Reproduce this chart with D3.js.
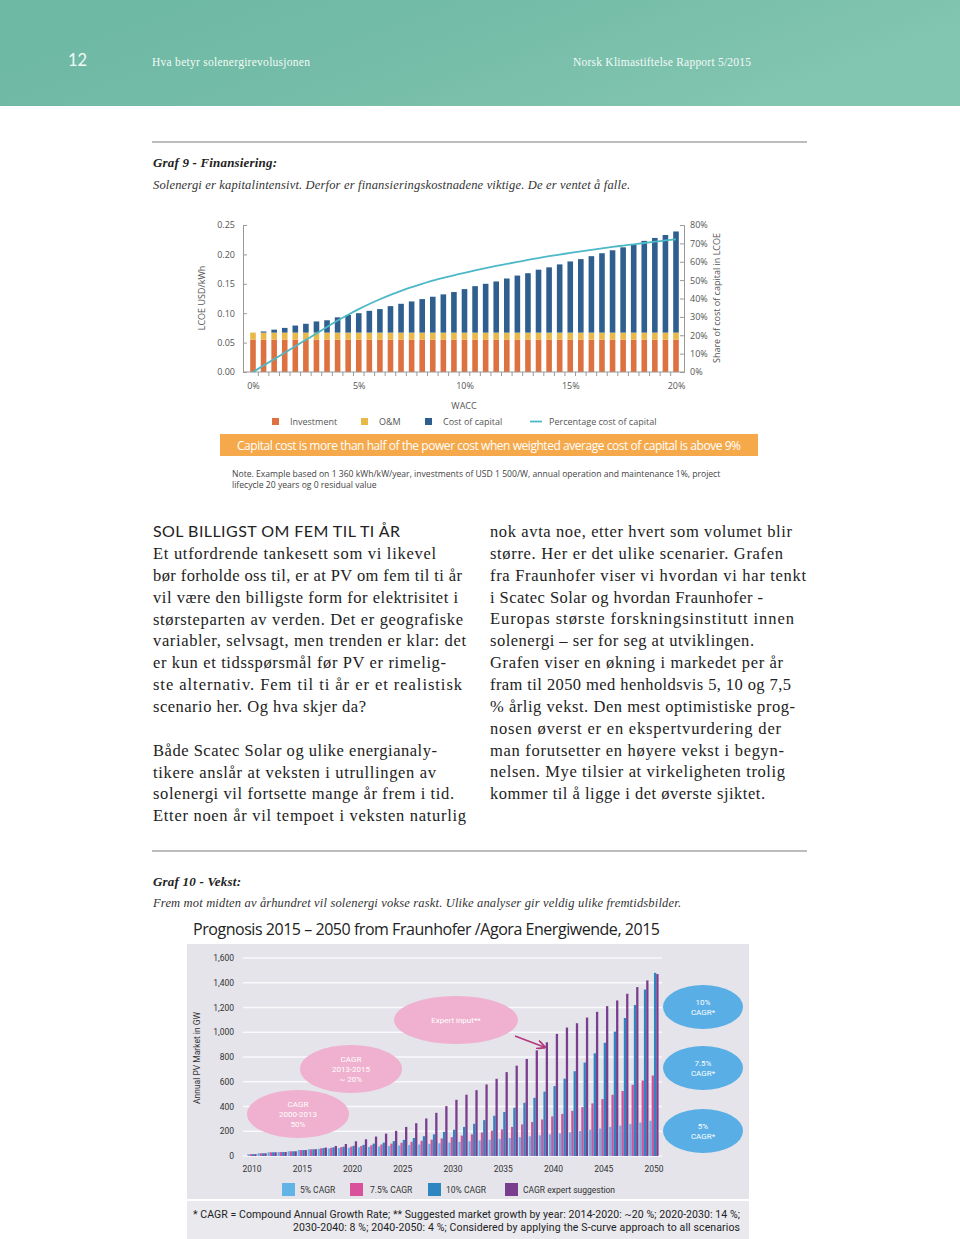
<!DOCTYPE html>
<html><head><meta charset="utf-8">
<script src="https://cdn.jsdelivr.net/npm/d3@7/dist/d3.min.js"></script>
<style>body{margin:0;background:#fff}svg{display:block}</style>
</head><body>
<svg id="page" width="960" height="1239"></svg>
<script>
// ---------- Graf 9 data ----------
const wacc = [0,0.5,1,1.5,2,2.5,3,3.5,4,4.5,5,5.5,6,6.5,7,7.5,8,8.5,9,9.5,10,10.5,11,11.5,12,12.5,13,13.5,14,14.5,15,15.5,16,16.5,17,17.5,18,18.5,19,19.5,20];
const investment = [0.055,0.055,0.055,0.055,0.055,0.055,0.055,0.055,0.055,0.055,0.055,0.055,0.055,0.055,0.055,0.055,0.055,0.055,0.055,0.055,0.055,0.055,0.055,0.055,0.055,0.055,0.055,0.055,0.055,0.055,0.055,0.055,0.055,0.055,0.055,0.055,0.055,0.055,0.055,0.055,0.055];
const om = [0.012,0.012,0.012,0.012,0.012,0.012,0.012,0.012,0.012,0.012,0.012,0.012,0.012,0.012,0.012,0.012,0.012,0.012,0.012,0.012,0.012,0.012,0.012,0.012,0.012,0.012,0.012,0.012,0.012,0.012,0.012,0.012,0.012,0.012,0.012,0.012,0.012,0.012,0.012,0.012,0.012];
const costOfCapital = [0,0.002,0.005,0.008,0.012,0.015,0.019,0.021,0.026,0.030,0.033,0.037,0.040,0.045,0.049,0.053,0.057,0.061,0.065,0.069,0.074,0.079,0.083,0.087,0.092,0.097,0.101,0.107,0.111,0.116,0.121,0.125,0.130,0.135,0.140,0.145,0.150,0.156,0.161,0.166,0.172];
const shareCapital = [0,3.5,7,10.5,14,17.5,21,24.5,28,31.2,34.2,37,39.6,42,44.2,46.2,48,49.7,51.2,52.6,54,55.3,56.5,57.7,58.8,59.9,61,62,63,63.9,64.8,65.7,66.5,67.3,68.1,68.8,69.5,70.2,70.9,71.6,72.2];
const leftTicks = [0,0.05,0.10,0.15,0.20,0.25];
const rightTicks = [0,10,20,30,40,50,60,70,80];
const xTicks = [0,5,10,15,20];
const legend1 = ["Investment","O&M","Cost of capital","Percentage cost of capital"];

// ---------- Graf 10 data ----------
const years = [2010,2011,2012,2013,2014,2015,2016,2017,2018,2019,2020,2021,2022,2023,2024,2025,2026,2027,2028,2029,2030,2031,2032,2033,2034,2035,2036,2037,2038,2039,2040,2041,2042,2043,2044,2045,2046,2047,2048,2049,2050];
const cagr5  = [15,22,30,32,38,48,54,58,61,64,67,70,73,77,81,85,89,93,98,103,108,114,119,125,131,138,145,152,159,167,175,183,192,202,212,222,235,245,258,270,285];
const cagr75 = [15,22,30,32,38,48,54,62,66,71,76,81,87,93,100,107,115,123,132,142,152,165,175,190,205,215,235,255,275,295,320,340,365,395,425,460,495,525,575,610,650];
const cagr10 = [15,22,30,32,38,48,54,64,70,75,82,90,100,108,120,130,145,160,175,195,212,235,260,290,325,355,390,430,470,520,565,625,685,755,830,915,1005,1115,1220,1345,1480];
const expert = [15,22,30,32,38,48,55,68,81,97,119,135,157,181,203,235,265,303,349,403,454,495,532,578,624,678,730,784,854,919,987,1038,1073,1119,1165,1211,1257,1311,1365,1419,1470];
const yTicks2 = [0,200,400,600,800,1000,1200,1400,1600];
const xLabels2 = [2010,2015,2020,2025,2030,2035,2040,2045,2050];
const seriesNames2 = ["5% CAGR","7.5% CAGR","10% CAGR","CAGR expert suggestion"];

// ---------- texts ----------
const leftCol = ["Et utfordrende tankesett som vi likevel","bør forholde oss til, er at PV om fem til ti år","vil være den billigste form for elektrisitet i","størsteparten av verden. Det er geografiske","variabler, selvsagt, men trenden er klar: det","er kun et tidsspørsmål før PV er rimelig-","ste alternativ. Fem til ti år er et realistisk","scenario her. Og hva skjer da?","","Både Scatec Solar og ulike energianaly-","tikere anslår at veksten i utrullingen av","solenergi vil fortsette mange år frem i tid.","Etter noen år vil tempoet i veksten naturlig"];
const leftEnds = [436,462,458,463,466,446,462,366,0,437,436,454,466];
const rightCol = ["nok avta noe, etter hvert som volumet blir","større. Her er det ulike scenarier. Grafen","fra Fraunhofer viser vi hvordan vi har tenkt","i Scatec Solar og hvordan Fraunhofer -","Europas største forskningsinstitutt innen","solenergi – ser for seg at utviklingen.","Grafen viser en økning i markedet per år","fram til 2050 med henholdsvis 5, 10 og 7,5","% årlig vekst. Den mest optimistiske prog-","nosen øverst er en ekspertvurdering der","man forutsetter en høyere vekst i begyn-","nelsen. Mye tilsier at virkeligheten trolig","kommer til å ligge i det øverste sjiktet."];
const rightEnds = [792,783,806,763,794,754,783,791,795,781,784,785,765];

const svg = d3.select("#page");
const defs = svg.append("defs");
const g = defs.append("linearGradient").attr("id","hdr").attr("x1","0").attr("y1","0").attr("x2","1").attr("y2","0.3");
g.append("stop").attr("offset","0").attr("stop-color","#6cb8a3");
g.append("stop").attr("offset","0.5").attr("stop-color","#74bca7");
g.append("stop").attr("offset","1").attr("stop-color","#82c5b0");

// header
svg.append("rect").attr("x",0).attr("y",0).attr("width",960).attr("height",106).attr("fill","url(#hdr)");
svg.append("text").attr("x",68).attr("y",66).attr("fill","#f2f9f6").attr("font-family","Lato").attr("font-size",16.5).text("12");
svg.append("text").attr("x",152).attr("y",66).attr("fill","#f4faf7").attr("font-family","Liberation Serif").attr("font-size",11.5).attr("textLength",158).text("Hva betyr solenergirevolusjonen");
svg.append("text").attr("x",573).attr("y",66).attr("fill","#f4faf7").attr("font-family","Liberation Serif").attr("font-size",11.5).attr("textLength",178).text("Norsk Klimastiftelse Rapport 5/2015");

// rules and titles
svg.append("rect").attr("x",152).attr("y",141).attr("width",655).attr("height",2).attr("fill","#bdbdbd");
svg.append("text").attr("x",153).attr("y",167).attr("font-family","Liberation Serif").attr("font-style","italic").attr("font-weight","bold").attr("font-size",13).attr("fill","#222").attr("textLength",124).text("Graf 9 - Finansiering:");
svg.append("text").attr("x",153).attr("y",189).attr("font-family","Liberation Serif").attr("font-style","italic").attr("font-size",12.5).attr("fill","#333").attr("textLength",477).text("Solenergi er kapitalintensivt. Derfor er finansieringskostnadene viktige. De er ventet å falle.");

// ---------- chart 1 ----------
const c1 = svg.append("g").attr("font-family","Open Sans");
const x1 = d3.scaleLinear().domain([0,20]).range([253,676]);
const yL = d3.scaleLinear().domain([0,0.25]).range([372,225]);
const yR = d3.scaleLinear().domain([0,80]).range([372,225]);
const bw = 5.6;
const col = {inv:"#dd7240", om:"#e8b948", cap:"#2f5f8f", line:"#4db8c8"};
const rows = wacc.map((w,i)=>({w, inv:investment[i], om:om[i], cap:costOfCapital[i]}));
c1.selectAll(".inv").data(rows).join("rect").attr("x",d=>x1(d.w)-bw/2).attr("width",bw)
  .attr("y",d=>yL(d.inv)).attr("height",d=>yL(0)-yL(d.inv)).attr("fill",col.inv);
c1.selectAll(".om").data(rows).join("rect").attr("x",d=>x1(d.w)-bw/2).attr("width",bw)
  .attr("y",d=>yL(d.inv+d.om)).attr("height",d=>yL(d.inv)-yL(d.inv+d.om)).attr("fill",col.om);
c1.selectAll(".cap").data(rows).join("rect").attr("x",d=>x1(d.w)-bw/2).attr("width",bw)
  .attr("y",d=>yL(d.inv+d.om+d.cap)).attr("height",d=>yL(d.inv+d.om)-yL(d.inv+d.om+d.cap)).attr("fill",col.cap);

// axes
const axL = c1.append("g").attr("transform","translate(243,0)")
  .call(d3.axisLeft(yL).tickValues(leftTicks).tickFormat(d3.format(".2f")).tickSize(-4).tickPadding(8));
const axR = c1.append("g").attr("transform","translate(684,0)")
  .call(d3.axisRight(yR).tickValues(rightTicks).tickFormat(d=>d+"%").tickSize(-4).tickPadding(6));
const axB = c1.append("g").attr("transform","translate(0,372)")
  .call(d3.axisBottom(x1).tickValues(xTicks).tickFormat(d=>d+"%").tickSize(0).tickPadding(11));
axB.select(".domain").attr("d","M243,0H684");
c1.append("g").selectAll("line").data(wacc.slice(0,40)).join("line")
  .attr("x1",d=>x1(d+0.25)).attr("x2",d=>x1(d+0.25)).attr("y1",372).attr("y2",376).attr("stroke","#999");
[axL,axR,axB].forEach(a=>{a.selectAll(".domain").attr("stroke","#999");a.selectAll("line").attr("stroke","#999");
  a.selectAll("text").attr("fill","#555").attr("font-size",9).attr("font-family","Open Sans");});

// line
const ln = d3.line().x((d,i)=>x1(wacc[i])).y(d=>yR(d)).curve(d3.curveMonotoneX);
c1.append("path").attr("d",ln(shareCapital)).attr("fill","none").attr("stroke",col.line).attr("stroke-width",1.8);

c1.append("text").attr("transform","translate(205,298) rotate(-90)").attr("text-anchor","middle").attr("font-size",9).attr("fill","#555").text("LCOE USD/kWh");
c1.append("text").attr("transform","translate(720,298) rotate(-90)").attr("text-anchor","middle").attr("font-size",9).attr("fill","#555").text("Share of cost of capital in LCOE");
c1.append("text").attr("x",464).attr("y",409).attr("text-anchor","middle").attr("font-size",9).attr("fill","#555").text("WACC");

// legend 1
const lg1x = [272,361,425,530];
const lgCols = [col.inv,col.om,col.cap,col.line];
legend1.forEach((t,i)=>{
  if(i<3) c1.append("rect").attr("x",lg1x[i]).attr("y",418).attr("width",7).attr("height",7).attr("fill",lgCols[i]);
  else c1.append("line").attr("x1",lg1x[i]).attr("x2",lg1x[i]+12).attr("y1",421.5).attr("y2",421.5).attr("stroke",lgCols[i]).attr("stroke-width",1.8);
  c1.append("text").attr("x",lg1x[i]+(i<3?18:19)).attr("y",425).attr("font-size",9).attr("fill","#555").text(t);
});
// banner
c1.append("rect").attr("x",220).attr("y",434).attr("width",538).attr("height",22).attr("fill","#f6a94b");
c1.append("text").attr("x",489).attr("y",449.5).attr("text-anchor","middle").attr("font-size",12).attr("fill","#fff").attr("textLength",504).text("Capital cost is more than half of the power cost when weighted average cost of capital is above 9%");
c1.append("text").attr("x",232).attr("y",477).attr("font-size",8.6).attr("fill","#444").text("Note. Example based on 1 360 kWh/kW/year, investments of USD 1 500/W, annual operation and maintenance 1%, project");
c1.append("text").attr("x",232).attr("y",488).attr("font-size",8.6).attr("fill","#444").text("lifecycle 20 years  og 0 residual value");

// ---------- body text ----------
svg.append("text").attr("x",153).attr("y",537).attr("font-family","Lato").attr("font-size",16).attr("fill","#222").attr("textLength",247).text("SOL BILLIGST OM FEM TIL TI ÅR");
const lh = 21.85;
leftCol.forEach((t,i)=>{ if(!t) return;
  svg.append("text").attr("x",153).attr("y",559+i*lh).attr("font-family","Liberation Serif").attr("font-size",16.5).attr("fill","#222")
    .attr("textLength",leftEnds[i]-153).attr("lengthAdjust","spacing").text(t);});
rightCol.forEach((t,i)=>{
  svg.append("text").attr("x",490).attr("y",537+i*lh).attr("font-family","Liberation Serif").attr("font-size",16.5).attr("fill","#222")
    .attr("textLength",rightEnds[i]-490).attr("lengthAdjust","spacing").text(t);});

// ---------- Graf 10 ----------
svg.append("rect").attr("x",152).attr("y",850).attr("width",655).attr("height",2).attr("fill","#bdbdbd");
svg.append("text").attr("x",153).attr("y",886).attr("font-family","Liberation Serif").attr("font-style","italic").attr("font-weight","bold").attr("font-size",13).attr("fill","#222").attr("textLength",88).text("Graf 10 - Vekst:");
svg.append("text").attr("x",153).attr("y",907).attr("font-family","Liberation Serif").attr("font-style","italic").attr("font-size",12.5).attr("fill","#333").attr("textLength",528).text("Frem mot midten av århundret vil solenergi vokse raskt. Ulike analyser gir veldig ulike fremtidsbilder.");
svg.append("text").attr("x",193).attr("y",935).attr("font-family","Open Sans").attr("font-size",16).attr("fill","#222").attr("textLength",467).text("Prognosis 2015 – 2050 from Fraunhofer /Agora Energiwende, 2015");

const c2 = svg.append("g").attr("font-family","Roboto");
c2.append("rect").attr("x",187).attr("y",944).attr("width",562).attr("height",255).attr("fill","#e4e4ea");
c2.append("rect").attr("x",187).attr("y",1201).attr("width",562).attr("height",38).attr("fill","#e9e9ee");
const x2 = d3.scaleBand().domain(years).range([247,659]);
const xi = d3.scaleBand().domain([0,1,2,3]).range([0,9.2]).padding(0);
const y2 = d3.scaleLinear().domain([0,1600]).range([1156,958]);
c2.append("g").selectAll("line").data(yTicks2).join("line").attr("x1",243).attr("x2",662)
  .attr("y1",d=>y2(d)).attr("y2",d=>y2(d)).attr("stroke","#fafafc").attr("stroke-width",1.3);
const ax2 = c2.append("g").attr("transform","translate(240,0)").call(d3.axisLeft(y2).tickValues(yTicks2).tickFormat(d3.format(",")).tickSize(0).tickPadding(6));
ax2.select(".domain").remove();
ax2.selectAll("text").attr("font-size",8.5).attr("fill","#333").attr("font-family","Roboto");
const ax2b = c2.append("g").attr("transform","translate(0,1158)").call(d3.axisBottom(x2).tickValues(xLabels2).tickSize(0).tickPadding(8));
ax2b.select(".domain").remove();
ax2b.selectAll("text").attr("font-size",8.5).attr("fill","#333").attr("font-family","Roboto");
c2.append("text").attr("transform","translate(200,1058) rotate(-90)").attr("text-anchor","middle").attr("font-size",8.5).attr("fill","#333").text("Annual PV Market in GW");

const cols2 = ["#62b3e6","#d9509b","#2e86c1","#7a3e8e"];
const series2 = [cagr5,cagr75,cagr10,expert];
const grp = c2.append("g").selectAll("g").data(years).join("g").attr("transform",d=>`translate(${x2(d)+0.4},0)`);
grp.selectAll("rect").data((d,i)=>series2.map((s,k)=>({k,v:s[i]}))).join("rect")
  .attr("x",d=>xi(d.k)).attr("width",xi.bandwidth()).attr("y",d=>y2(d.v)).attr("height",d=>y2(0)-y2(d.v)).attr("fill",d=>cols2[d.k]);

// ellipses
const pinkE = [{cx:298,cy:1114,rx:51,ry:24,t:["CAGR","2000-2013","50%"]},{cx:351,cy:1069,rx:51,ry:24,t:["CAGR","2013-2015","~ 20%"]},{cx:456,cy:1020,rx:62,ry:24,t:["Expert input**"]}];
const blueE = [{cx:703,cy:1007,rx:40,ry:22,t:["10%","CAGR*"]},{cx:703,cy:1068,rx:40,ry:22,t:["7.5%","CAGR*"]},{cx:703,cy:1131,rx:40,ry:22,t:["5%","CAGR*"]}];
function ell(arr,fill){arr.forEach(e=>{
  c2.append("ellipse").attr("cx",e.cx).attr("cy",e.cy).attr("rx",e.rx).attr("ry",e.ry).attr("fill",fill);
  const n=e.t.length; e.t.forEach((s,i)=>c2.append("text").attr("x",e.cx).attr("y",e.cy+3+(i-(n-1)/2)*10).attr("text-anchor","middle").attr("font-size",8).attr("fill","#fff").text(s));});}
ell(pinkE,"#efb1cf"); ell(blueE,"#58aee5");
defs.append("marker").attr("id","ah").attr("viewBox","0 0 10 10").attr("refX",8).attr("refY",5).attr("markerWidth",6).attr("markerHeight",6).attr("orient","auto")
  .append("path").attr("d","M0,0L10,5L0,10").attr("fill","none").attr("stroke","#b23a7c").attr("stroke-width",2);
c2.append("line").attr("x1",515).attr("y1",1036).attr("x2",544).attr("y2",1047).attr("stroke","#b23a7c").attr("stroke-width",1.5).attr("marker-end","url(#ah)");

// legend 2
const lg2x = [282,350,428,505];
seriesNames2.forEach((t,i)=>{
  c2.append("rect").attr("x",lg2x[i]).attr("y",1183).attr("width",13).attr("height",13).attr("fill",cols2[i]);
  c2.append("text").attr("x",lg2x[i]+(i===1?20:18)).attr("y",1193).attr("font-size",8.5).attr("fill","#333").text(t);
});
c2.append("text").attr("x",193).attr("y",1218).attr("font-size",10.5).attr("fill","#222").attr("textLength",547).text("* CAGR = Compound Annual Growth Rate; ** Suggested market growth by year: 2014-2020: ~20 %; 2020-2030: 14 %;");
c2.append("text").attr("x",740).attr("y",1231).attr("text-anchor","end").attr("font-size",10.5).attr("fill","#222").attr("textLength",447).text("2030-2040: 8 %; 2040-2050: 4 %; Considered by applying the S-curve approach to all scenarios");
</script>
</body></html>
